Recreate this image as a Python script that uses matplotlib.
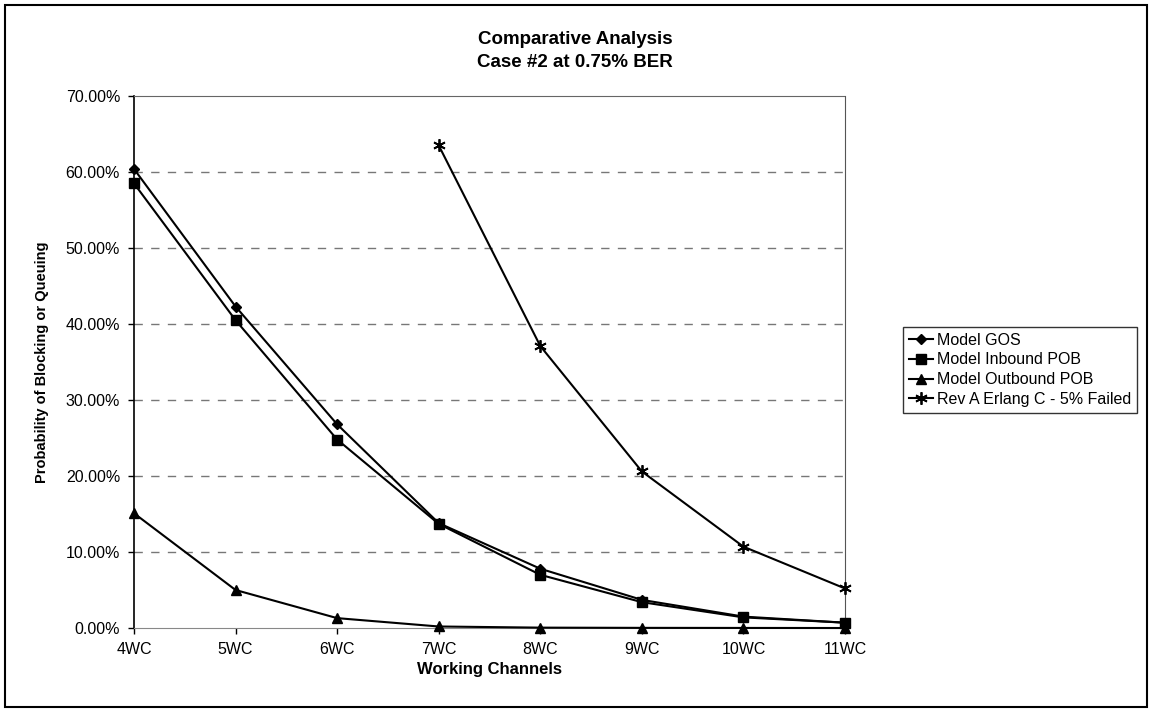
""" comparative analysis of blocking / queuing probability vs working channels """
import matplotlib
matplotlib.use("Agg")
import matplotlib.pyplot as plt  # type: ignore
from matplotlib.patches import Rectangle
from matplotlib.ticker import FuncFormatter

channels = ["4WC", "5WC", "6WC", "7WC", "8WC", "9WC", "10WC", "11WC"]

# probabilities in percent, one value per channel count
model_gos = [60.4, 42.3, 26.8, 13.8, 7.8, 3.7, 1.5, 0.7]
model_inbound = [58.5, 40.5, 24.8, 13.7, 7.0, 3.4, 1.4, 0.7]
model_outbound = [15.1, 5.0, 1.3, 0.2, 0.05, 0.02, 0.01, 0.0]
# Erlang C curve only exists from 7WC upward
erlang_channels = ["7WC", "8WC", "9WC", "10WC", "11WC"]
rev_a_erlang = [63.5, 37.1, 20.6, 10.7, 5.2]

plt.rcParams["font.family"] = ["Liberation Sans", "DejaVu Sans"]

if __name__ == "__main__":
    fig = plt.figure(figsize=(11.5, 7.13), dpi=100, facecolor="w")
    ax = fig.add_axes([0.1165, 0.1192, 0.6183, 0.7462])

    xs = list(range(len(channels)))
    ex = [channels.index(c) for c in erlang_channels]

    style = dict(color="k", lw=1.5, clip_on=False, zorder=3)
    ax.plot(xs, model_gos, marker="D", ms=5, label="Model GOS", **style)
    ax.plot(xs, model_inbound, marker="s", ms=7, label="Model Inbound POB", **style)
    ax.plot(xs, model_outbound, marker="^", ms=7, label="Model Outbound POB", **style)
    ax.plot(ex, rev_a_erlang, marker=(6, 2, 0), ms=9, mew=1.3,
            label="Rev A Erlang C - 5% Failed", **style)

    ax.set_xlim(0, len(channels) - 1)
    ax.set_ylim(0, 70)
    ax.set_xticks(xs)
    ax.set_xticklabels(channels)
    ax.set_yticks(range(0, 71, 10))
    ax.yaxis.set_major_formatter(FuncFormatter(lambda v, p: f"{v:.2f}%"))
    ax.tick_params(axis="both", direction="out", length=4, width=1, labelsize=11.5, pad=6)

    # dashed horizontal grid
    for v in range(10, 70, 10):
        ax.axhline(v, color="#777777", lw=1, dashes=(6, 6), zorder=0)

    ax.spines["left"].set_color("k")
    ax.spines["left"].set_linewidth(1.2)
    ax.spines["bottom"].set_color("#888888")
    ax.spines["top"].set_color("#666666")
    ax.spines["top"].set_linestyle((0, (1, 1)))
    ax.spines["right"].set_color("#555555")
    ax.spines["right"].set_linestyle((0, (1, 1)))

    ax.set_xlabel("Working Channels", fontsize=12, fontweight="bold", labelpad=4)
    ax.set_ylabel("Probability of Blocking or Queuing", fontsize=10.5, fontweight="bold", labelpad=12)
    fig.text(0.5, 1 - 31 / 713, "Comparative Analysis\nCase #2 at 0.75% BER", fontsize=13.5,
             fontweight="bold", ha="center", va="top", linespacing=1.45)

    leg = fig.legend(loc="upper left", bbox_to_anchor=(903 / 1150, 1 - 327 / 713), fontsize=11.5,
                     frameon=True, fancybox=False, handlelength=1.5, handletextpad=0.3,
                     borderpad=0.35, labelspacing=0.3, borderaxespad=0)
    leg.get_frame().set_edgecolor("k")
    leg.get_frame().set_linewidth(1)

    # frame around the whole chart
    fig.patches.append(Rectangle((0.004, 0.008), 0.993, 0.985, transform=fig.transFigure,
                                 fill=False, lw=1.5, edgecolor="k"))

    plt.savefig("out.png", dpi=100, facecolor="w")
